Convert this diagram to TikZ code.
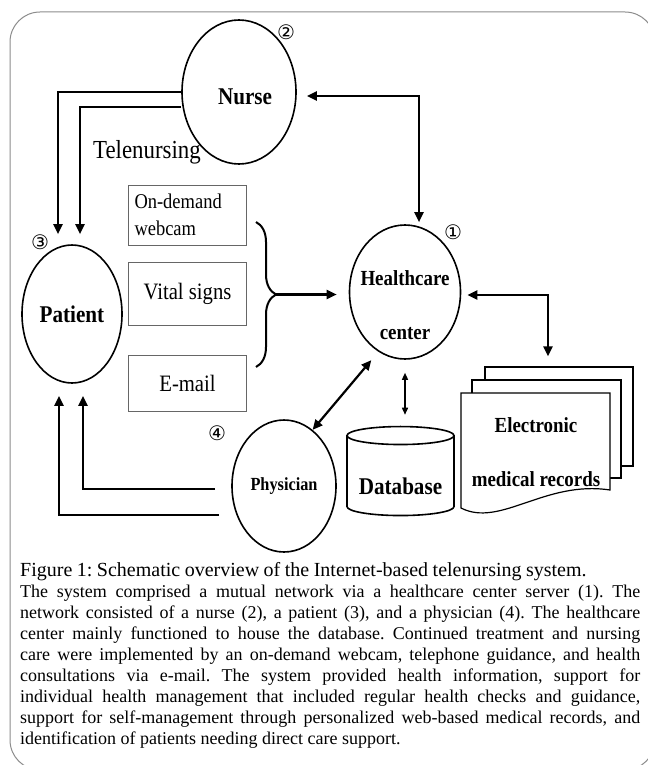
\documentclass[tikz,border=0pt]{standalone}
\usepackage{fontspec}
\usepackage{tikz}
\usetikzlibrary{arrows.meta,calc,positioning,shapes.geometric,decorations.pathreplacing}
\setmainfont{Liberation Serif}
\newfontfamily\diag[FakeStretch=0.88]{Liberation Serif}
\newfontfamily\circfont{DejaVu Sans}
\newcommand{\pxfont}[1]{\fontsize{#1bp}{#1bp}\selectfont\spaceskip=0.22em\relax}
\newcommand{\capline}[1]{\hbox to 620bp{#1}}

\begin{document}
\begin{tikzpicture}[
      x=1bp,y=-1bp,
      actor/.style={ellipse,draw,line width=1.6bp,inner sep=0pt,font=\diag\bfseries\pxfont{#1}},
      tag/.style={align=flush center,inner sep=0pt,font=\diag\bfseries\pxfont{#1}},
      box/.style={rectangle,draw=black!60,line width=1bp,inner sep=6bp,text width=106bp,align=flush center,font=\diag\pxfont{#1}},
      page/.style={rectangle,draw,line width=1.2bp,fill=white,inner sep=0pt},
      num/.style={inner sep=0pt,font=\circfont\fontsize{20bp}{20bp}\selectfont},
      arrow/.style={-{Triangle[length=10bp,width=9bp]},line width=2.2bp},
      twoway/.style={{Triangle[length=10bp,width=9bp]}-{Triangle[length=10bp,width=9bp]},line width=2.2bp},
      thinway/.style={{Triangle[length=7bp,width=6bp]}-{Triangle[length=7bp,width=6bp]},line width=1.4bp}
    ]
    \useasboundingbox (0,0) rectangle (648,765);
    \fill[white] (0,0) rectangle (648,765);
    \clip (0,0) rectangle (648,765);
    \draw[black!45,line width=1bp,rounded corners=30bp] (10,12) rectangle (655,770);

    \node[actor=24,minimum width=114bp,minimum height=144bp] (nurse) at (239,92) {};
    \node[tag=24] (nurselabel) at (245,97) {Nurse};
    \node[actor=24,minimum width=100bp,minimum height=138bp] (patient) at (72,314) {Patient};
    \node[actor=21.5,minimum width=111bp,minimum height=134bp] (hc) at (405,292) {};
    \node[tag=21.5] (hclabel) at ([yshift=-13bp]hc.center) {Healthcare\\[32bp]center};
    \node[actor=18.5,minimum width=104bp,minimum height=132bp] (phys) at (284,486) {Physician};
    \node[cylinder,shape border rotate=90,aspect=0.2,draw,line width=1.6bp,minimum width=107bp,minimum height=89bp,
          text height=33bp,text depth=0bp,font=\diag\bfseries\pxfont{24}] (db) at (400.5,477.5) {Database};

    \node[box=21,align=left,minimum height=60bp] (webcam) at (187.5,215) {On-demand\\[6bp]webcam};
    \node[box=23.5,minimum height=63bp,below=16bp of webcam] (vital) {Vital signs};
    \node[box=23.5,minimum height=56bp,below=29bp of vital] (email) {E-mail};
    \draw[line width=2bp,decorate,decoration={brace,amplitude=20bp}] (256,222) -- (256,367);
    \coordinate (bracetip) at (276,294.5);

    \node[page,minimum width=148bp,minimum height=99bp] (emr3) at (559,416.5) {};
    \node[page,minimum width=149bp,minimum height=98bp] (emr2) at (546.5,429) {};
    \draw[line width=1.2bp,fill=white] (461,393) -- (610,393) -- (610,490) .. controls (545,480) and (500,528) .. (461,508) -- cycle;
    \node[tag=21.5] (emr) at (536,452) {Electronic\\[32bp]medical records};

    \node[font=\diag\pxfont{26}] (tele) at (147,152) {Telenursing};
    \node[num] (n1) at (453,232) {①};
    \node[num] (n2) at (286,32) {②};
    \node[num] (n3) at (40,242) {③};
    \node[num] (n4) at (217,433) {④};

    \draw[arrow] (nurse.west) -| ([xshift=-14bp,yshift=10bp]patient.north);
    \draw[arrow] ([yshift=-15bp]nurse.west) -| ([xshift=8bp,yshift=10bp]patient.north);
    \draw[arrow] ([xshift=-16bp,yshift=-3bp]phys.west) -| ([xshift=11bp,yshift=-12bp]patient.south);
    \draw[arrow] ([xshift=-12bp,yshift=-29bp]phys.west) -| ([xshift=-13bp,yshift=-12bp]patient.south);
    \draw[twoway] ([xshift=10bp,yshift=-4bp]nurse.east) -| ([xshift=14bp,yshift=2bp]hc.north);
    \draw[twoway] ([xshift=6bp,yshift=-3bp]hc.east) -| ([xshift=-11bp,yshift=10bp]emr3.north);
    \draw[twoway,shorten >=11bp] (phys.63) -- (hc.246);
    \draw[thinway] ([yshift=-13bp]hc.south) -- ($(hc.south |- db.top)+(0,-11)$);
    \draw[arrow] (bracetip) -- ([xshift=-12bp]hc.west |- bracetip);

    \node[anchor=north west,inner sep=0pt,text width=620bp,font=\fontsize{18bp}{21bp}\selectfont] (caption) at (20,562) {%
      \frenchspacing\spaceskip=0.25em plus 0.25em minus 0.08em\relax
      {\fontsize{20bp}{24bp}\selectfont Figure 1: Schematic overview of the Internet-based telenursing system.\par}
      \capline{The system comprised a mutual network via a healthcare center server (1). The}
      \capline{network consisted of a nurse (2), a patient (3), and a physician (4). The healthcare}
      \capline{center mainly functioned to house the database. Continued treatment and nursing}
      \capline{care were implemented by an on-demand webcam, telephone guidance, and health}
      \capline{consultations via e-mail. The system provided health information, support for}
      \capline{individual health management that included regular health checks and guidance,}
      \capline{support for self-management through personalized web-based medical records, and}
      identification of patients needing direct care support.};
  \end{tikzpicture}
\end{document}
